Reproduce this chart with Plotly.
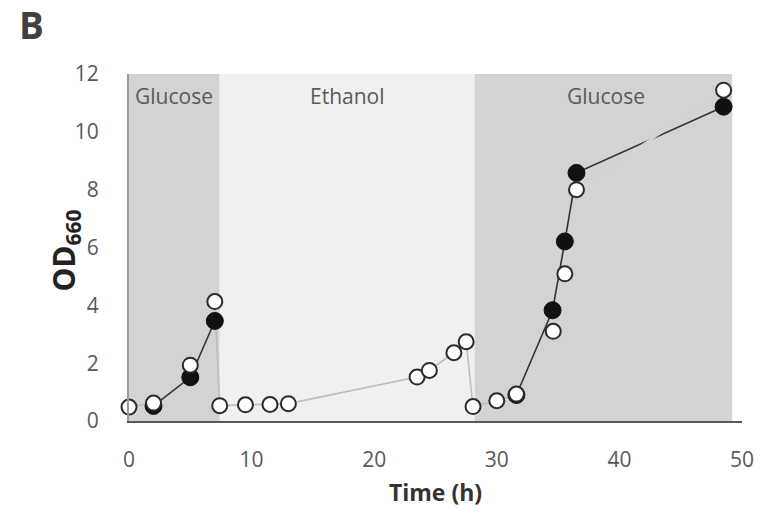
import plotly.graph_objects as go

# Data
time_open = [0, 2, 5, 7, 7.4, 9.5, 11.5, 13, 23.5, 24.5, 26.5, 27.5, 28.06, 30, 31.6, 34.6, 35.55, 36.5, 48.5]
od_open = [0.48, 0.62, 1.93, 4.13, 0.53, 0.56, 0.57, 0.6, 1.52, 1.75, 2.36, 2.74, 0.5, 0.7, 0.93, 3.1, 5.09, 8.0, 11.44]

time_filled = [2, 5, 7, 31.6, 34.55, 35.55, 36.5, 48.5]
od_filled = [0.52, 1.51, 3.46, 0.9, 3.83, 6.21, 8.58, 10.87]

phase_labels = ["Glucose", "Ethanol", "Glucose"]
phase_bounds = [0, 7.4, 28.2, 49.2]
phase_colors = ["#d3d3d3", "#f0f0f0", "#d3d3d3"]
phase_label_x = [3.65, 17.8, 38.9]

x_ticks = [0, 10, 20, 30, 40, 50]
y_ticks = [0, 2, 4, 6, 8, 10, 12]

FONT = "Open Sans"
fig = go.Figure()

# phase shading
for i, lab in enumerate(phase_labels):
    fig.add_shape(type="rect", xref="x", yref="y",
                  x0=phase_bounds[i], x1=phase_bounds[i + 1], y0=0, y1=12,
                  fillcolor=phase_colors[i], line_width=0, layer="below")
    fig.add_annotation(x=phase_label_x[i], y=11.25, text=lab, showarrow=False,
                       font=dict(family=FONT, size=21, color="#595959"))

# light grey connecting lines (open series)
for a, b in [(0, 2), (3, 15)]:
    fig.add_trace(go.Scatter(x=time_open[a:b], y=od_open[a:b], mode="lines",
                             line=dict(color="#bdbdbd", width=1.6),
                             hoverinfo="skip", showlegend=False))
# dark connecting lines (filled series)
for a, b in [(0, 3), (3, 8)]:
    fig.add_trace(go.Scatter(x=time_filled[a:b], y=od_filled[a:b], mode="lines",
                             line=dict(color="#333333", width=1.6),
                             hoverinfo="skip", showlegend=False))
# background-coloured line segment of open series (crosses the dark line)
fig.add_trace(go.Scatter(x=time_open[17:19], y=od_open[17:19], mode="lines",
                         line=dict(color="#d3d3d3", width=2.5),
                         hoverinfo="skip", showlegend=False))

# markers
fig.add_trace(go.Scatter(x=time_filled, y=od_filled, mode="markers",
                         marker=dict(size=17, color="#111111",
                                     line=dict(color="#111111", width=1)),
                         cliponaxis=False, showlegend=False))
fig.add_trace(go.Scatter(x=time_open, y=od_open, mode="markers",
                         marker=dict(size=15, color="#ffffff",
                                     line=dict(color="#2a2a2a", width=2)),
                         cliponaxis=False, showlegend=False))

fig.update_layout(
    width=766, height=514,
    margin=dict(l=129, r=20, t=74, b=91),
    paper_bgcolor="white", plot_bgcolor="white",
    font=dict(family=FONT, color="#444444"),
    xaxis=dict(range=[0, 50], tickvals=x_ticks, showgrid=False, zeroline=False,
               showline=True, linecolor="#5a5a5a", linewidth=2,
               ticks="", ticklabelstandoff=19,
               tickfont=dict(family=FONT, size=21, color="#595959"),
               title=dict(text="<b>Time (h)</b>", standoff=13,
                          font=dict(family=FONT, size=23, color="#333333"))),
    yaxis=dict(range=[0, 12], tickvals=y_ticks, showgrid=False, zeroline=False,
               showline=True, linecolor="#9a9a9a", linewidth=2,
               ticks="", ticklabelstandoff=24,
               tickfont=dict(family=FONT, size=21, color="#595959")),
)

fig.add_annotation(xref="paper", yref="paper", x=-0.105, y=0.49,
                   text="<b>OD</b><sub><b>660</b></sub>", textangle=-90,
                   showarrow=False, xanchor="center", yanchor="middle",
                   font=dict(family=FONT, size=30, color="#222222"))
fig.add_annotation(xref="paper", yref="paper", x=-0.159, y=1.143,
                   text="<b>B</b>", showarrow=False, xanchor="center", yanchor="middle",
                   font=dict(family=FONT, size=37, color="#404040"))

fig.write_html("out.html")
